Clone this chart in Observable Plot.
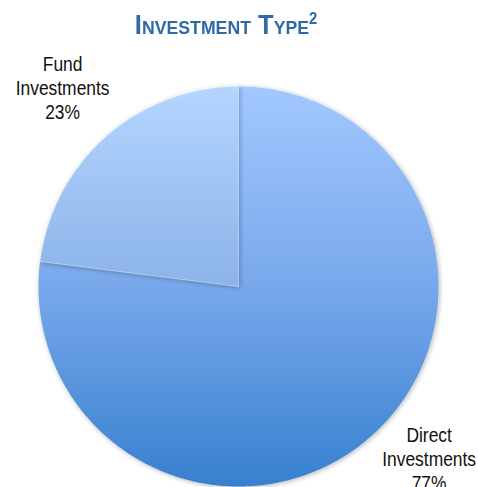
<!DOCTYPE html>
<html>
<head>
<meta charset="utf-8">
<script src="https://cdn.jsdelivr.net/npm/d3@7"></script>
<script src="https://cdn.jsdelivr.net/npm/@observablehq/plot@0.6"></script>
<style>
  html, body { margin: 0; padding: 0; background: #fff; }
  #wrap { width: 478px; height: 487px; overflow: hidden; position: relative; }
  #title { height: 50px; text-align: center; font-family: "Liberation Sans", Arial, sans-serif;
    font-weight: bold; font-size: 27.5px; color: #2E6AA6; font-variant: small-caps; line-height: 50px; }
  #title span { display: inline-block; transform: scaleX(0.93); transform-origin: center; margin-left: -26px; }
  #title sup { font-size: 16px; vertical-align: 0; position: relative; top: -10px; font-variant: normal; }
</style>
</head>
<body>
<div id="wrap">
  <div id="title"><span>Investment Type<sup>2</sup></span></div>
  <div id="chart"></div>
</div>
<script>
// ---- data ----
const categories = ["Direct Investments", "Fund Investments"];
const shares = [77, 23];
const labelLines = [["Direct", "Investments", "77%"], ["Fund", "Investments", "23%"]];

// ---- build slices ----
const pie = d3.pie().sort(null).value(d => d.share)(categories.map((c, i) => ({cat: c, share: shares[i], label: labelLines[i].join("\n")})));
const points = [];
pie.forEach(s => {
  const n = Math.max(2, Math.ceil((s.endAngle - s.startAngle) / (Math.PI / 360)));
  points.push({cat: s.data.cat, x: 0, y: 0});
  for (let k = 0; k <= n; k++) {
    const a = s.startAngle + (s.endAngle - s.startAngle) * k / n;
    points.push({cat: s.data.cat, x: Math.sin(a), y: Math.cos(a)});
  }
  points.push({cat: s.data.cat, x: 0, y: 0});
});
const labelOffsets = {"Direct Investments": {r: 1.29, dx: 20, dy: -22}, "Fund Investments": {r: 1.33, dx: 0, dy: 0}};
const labels = pie.map(s => {
  const m = (s.startAngle + s.endAngle) / 2, o = labelOffsets[s.data.cat];
  return {text: s.data.label, x: o.r * Math.sin(m), y: o.r * Math.cos(m), dx: o.dx, dy: o.dy};
});

const font = '"Liberation Sans", Arial, sans-serif';
const plot = Plot.plot({
  width: 478, height: 437, margin: 0,
  x: {domain: [-1, 1], range: [38, 438], axis: null},
  y: {domain: [-1, 1], range: [436, 36], axis: null},
  style: {fontFamily: font, background: "transparent", overflow: "visible"},
  marks: [
    Plot.line(points.filter(d => d.cat === categories[0]), {x: "x", y: "y", fill: "url(#gDirect)", stroke: "none", curve: "linear", className: "slice"}),
    Plot.line(points.filter(d => d.cat === categories[1]), {x: "x", y: "y", fill: "url(#gFund)", stroke: "#ffffff", strokeOpacity: 0.25, strokeWidth: 1, curve: "linear", className: "slice"}),
    ...labels.map(l => Plot.text([l], {x: "x", y: "y", text: "text", dx: l.dx, dy: l.dy, fontSize: 20.5, lineHeight: 1.17, fill: "#111", textAnchor: "middle", className: "lbl"}))
  ]
});
document.getElementById("chart").appendChild(plot);

// condensed look for labels (narrow face not installed)
d3.select(plot).selectAll("g.lbl text").each(function () {
  const t = this.getAttribute("transform") || "";
  this.setAttribute("transform", t + " scale(0.85,1)");
});

// gradients & shadow (defs)
const svg = d3.select(plot);
const defs = svg.insert("defs", ":first-child");
const yTop = 36, yBot = 436;
const gd = defs.append("linearGradient").attr("id", "gDirect").attr("gradientUnits", "userSpaceOnUse")
  .attr("x1", 0).attr("x2", 0).attr("y1", yTop).attr("y2", yBot);
[[0, "#A2C8FF"], [0.5, "#78A8EB"], [1, "#3780CF"]].forEach(([o, c]) => gd.append("stop").attr("offset", o).attr("stop-color", c));
const gf = defs.append("linearGradient").attr("id", "gFund").attr("gradientUnits", "userSpaceOnUse")
  .attr("x1", 0).attr("x2", 0).attr("y1", yTop).attr("y2", yBot);
[[0, "#B4D5FF"], [0.5, "#8CB4E9"], [1, "#5E95D8"]].forEach(([o, c]) => gf.append("stop").attr("offset", o).attr("stop-color", c));
const f = defs.append("filter").attr("id", "sh").attr("x", "-10%").attr("y", "-10%").attr("width", "120%").attr("height", "120%");
f.append("feDropShadow").attr("dx", 1).attr("dy", 1).attr("stdDeviation", 2.5).attr("flood-color", "#000").attr("flood-opacity", 0.3);
svg.selectAll("g.slice").attr("filter", "url(#sh)");
</script>
</body>
</html>
